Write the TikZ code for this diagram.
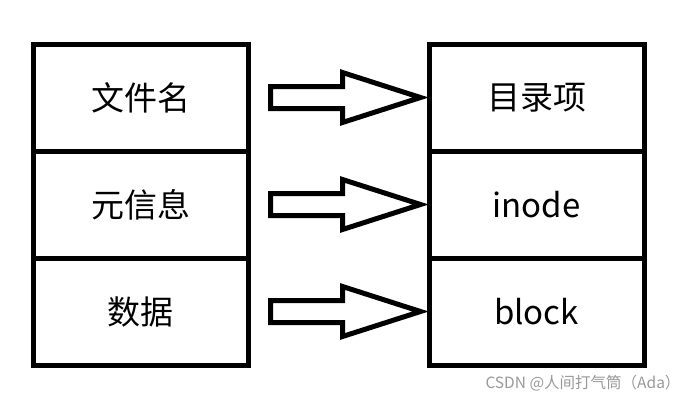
\documentclass[tikz,border=0pt]{standalone}
\usepackage{fontspec}
\setmainfont{Noto Sans CJK SC}
\usetikzlibrary{calc,positioning}
\tikzset{
  cell/.style={draw, line width=5pt, minimum width=215pt, minimum height=107pt, inner sep=0pt, font=\fontsize{33}{37}\selectfont},
  hollow/.style={draw, line width=5pt, line join=miter},
}
\newcommand{\fatarrow}[2]{%
  \draw[hollow] ($(#1.east)+(20pt,-11pt)$) -- ++(72pt,0) -- ++(0,-14pt) -- ($(#2.west)+(-6pt,0)$)
    -- ($(#1.east)+(92pt,25pt)$) -- ++(0,-14pt) -- ($(#1.east)+(20pt,11pt)$) -- cycle;}
\begin{document}
\begin{tikzpicture}[x=1pt,y=-1pt]
  \useasboundingbox (0,0) rectangle (695,402);
  \node[cell] (name) at (140.5,97.5) {文件名};
  \node[cell, below=-5pt of name] (meta) {元信息};
  \node[cell, below=-5pt of meta] (data) {数据};
  \node[cell] (dentry) at (536.5,97.5) {目录项};
  \node[cell, below=-5pt of dentry] (inode) {inode};
  \node[cell, below=-5pt of inode] (block) {block};
  \fatarrow{name}{dentry}
  \fatarrow{meta}{inode}
  \fatarrow{data}{block}
  \node[anchor=east, text=gray!80, font=\fontsize{15.5}{17}\selectfont] (mark) at (684,383) {CSDN @人间打气筒（Ada）};
\end{tikzpicture}
\end{document}
